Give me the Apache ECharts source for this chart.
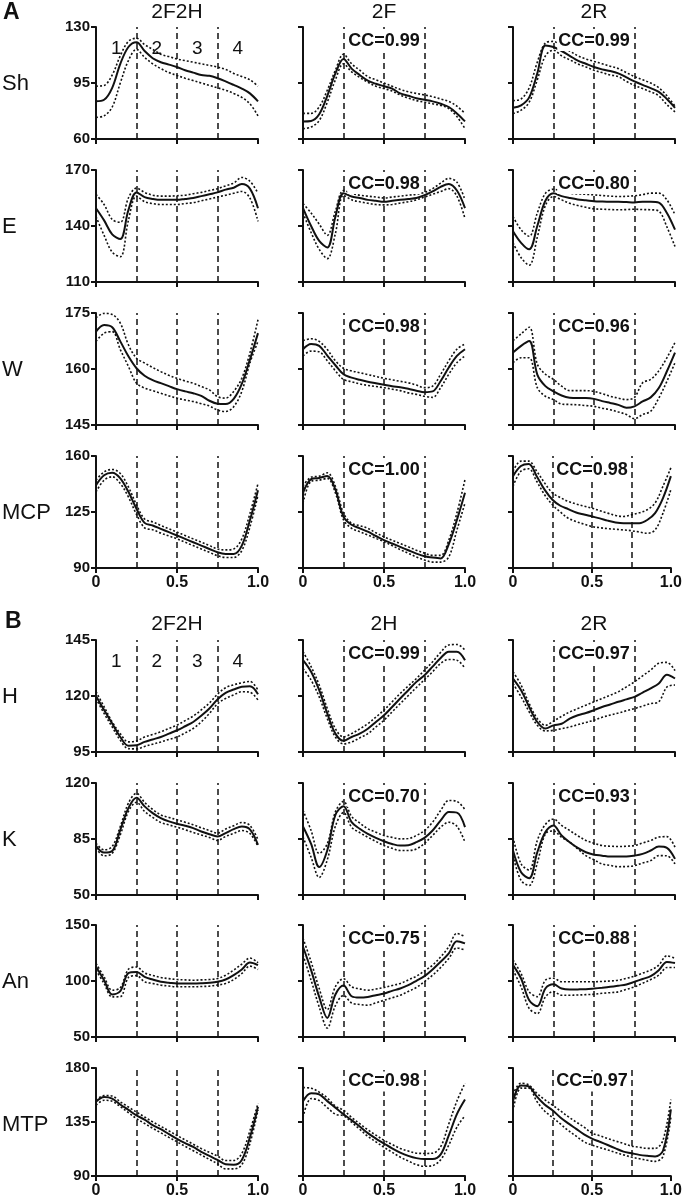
<!DOCTYPE html>
<html>
<head>
<meta charset="utf-8">
<script src="https://cdn.jsdelivr.net/npm/echarts@6/dist/echarts.min.js"></script>
<style>
html,body{margin:0;padding:0;background:#fff;}
#c{width:685px;height:1199px;}
</style>
</head>
<body>
<div id="c"></div>
<script>
// ---------- data ----------
const X = [0,0.05,0.1,0.15,0.2,0.25,0.3,0.35,0.4,0.45,0.5,0.55,0.6,0.65,0.7,0.75,0.8,0.85,0.9,0.95,1];
const ROWS = ['Sh','E','W','MCP','H','K','An','MTP'];
const COL_TITLES_A = ['2F2H','2F','2R'];
const COL_TITLES_B = ['2F2H','2H','2R'];
const YMIN = [60,110,145,90,95,50,50,90];
const YMAX = [130,170,175,160,145,120,150,180];
const X_TICKS = [0,0.5,1];
const PHASES = ['1','2','3','4'];
const PHASE_X = [0.125,0.375,0.625,0.875];
const CC = [
  [null,'0.99','0.99'],
  [null,'0.98','0.80'],
  [null,'0.98','0.96'],
  [null,'1.00','0.98'],
  [null,'0.99','0.97'],
  [null,'0.70','0.93'],
  [null,'0.75','0.88'],
  [null,'0.98','0.97']
];

// Sh
const sh1_m = [83.6,84.5,92,107,117.5,120.5,115,110.5,108,106.5,105,103,101.5,100,99.5,98,96,93.8,91.5,88.5,83.5];
const sh1_u = [93,93.5,100,112,121,123,119,116,113,111.5,110,109,108,107,106,105,103.5,101,99,97,93];
const sh1_l = [73.5,74.5,80,95,109,116,111,107,104,101.5,99.7,98,96.5,95,93.5,92,90.5,88.5,86,82,74.5];
const sh2_m = [71,71.3,75.5,87,101,110,104,100,96.5,94.5,93,91.5,88.5,87,85.5,84.5,83.5,82,80,76,71];
const sh2_u = [76,76,80,90.5,103,113,107,103,99,97,95,93,91,89.5,88.5,87.5,86.5,85,83.5,80.5,76];
const sh2_l = [66.5,67.5,71.5,83,97,107,102,98.5,95.5,93,91.5,90,87.5,85.5,84,83,82,81,79,74,66.5];
const sh3_m = [79.5,81,86,101,118.5,117.5,115,112,109,107,105,103.5,102.5,101,98.5,96,93.8,91.8,89.5,85,79.5];
const sh3_u = [84,85,92,108,120,121,118,115,112,110,108.5,107,105.5,104,101.5,99,97,95,92,87,80.5];
const sh3_l = [75.8,78,83,97,112,115.5,112,109.5,107,105,103,101.5,100,99,96,93.5,91.5,89.5,87,81.5,77];
// E
const e1_m = [149.5,143,135.5,133,148.5,158,155.5,154.5,154,154,154,154.5,155,156,157,158,159.5,160.5,162.5,160,149.5];
const e1_u = [157,151.5,143.5,142,155,160.3,158,156.5,156,156,156.2,156.5,157.3,158,159,160,161.5,163,166,164,157.5];
const e1_l = [145,135,126,123.5,143,156,153,152,151.5,151.5,151.5,152,152.5,153.5,154.5,155.5,156.5,157.5,158.5,155,142.5];
const e2_m = [149.6,140,132,128.5,145,157.6,155.8,155,154,153.5,153,153.5,154,154.5,155,156.5,158.5,161,162.5,159,149.6];
const e2_u = [152,147,141,135,148,159,157.5,156.5,156,155.5,155,155.5,156,156.5,157,158,160,163,165.5,163.5,154];
const e2_l = [147,136.5,127.5,122.5,136,156.5,154,153,152.2,151.5,151.3,151.5,152.3,153,154,155.5,157,158.5,160,156,144];
const e3_m = [137.2,131,127.5,140,153.5,157.5,156,155,154.2,153.8,153.3,153.1,153,153,152.8,152.6,153,153,152.5,147,138];
const e3_u = [145,138,134.5,147,157.5,159.7,158.8,157.6,157.2,157,156.7,156.3,156,155.8,155.9,156.2,156.8,157.6,157.6,154,146];
const e3_l = [131,123,119,134,151,155.8,154,152.2,151,150,149.2,149,148.8,148.7,148.8,149,148.8,148.7,148,139.5,129];
// W
const w1_m = [170,171.8,171.2,167.4,163.4,160.2,158.2,157,156.2,155.4,154.6,154,153.5,152.8,151.5,150.7,150.6,152,156,162.5,169.6];
const w1_u = [173.7,174.9,174.6,172.3,166.5,162.9,161.6,160.4,159.3,158.3,157.5,156.8,156.2,155.3,154.4,152.6,152.2,154,157.5,164.3,173.2];
const w1_l = [167.4,169.6,170,165.2,160.7,156.2,154.9,154.2,153.5,152.8,152.2,151.7,151.3,150.7,150.1,149,148.6,149.9,154,161.6,167.4];
const w2_m = [165.3,166.7,166.2,163.6,161,158.6,157.7,157.1,156.6,156.2,155.8,155.4,155.1,154.7,154.2,153.8,154,156.8,160.4,163.5,165.3];
const w2_u = [167.6,168.1,167.4,165.2,162.2,160.2,159.5,159,158.5,158,157.5,157.1,156.7,156.3,155.7,155,155.4,158.6,162.2,165.3,166.7];
const w2_l = [163.5,164.8,164.6,162.2,159.5,157.2,156.6,156,155.6,155.3,155,154.6,154.2,153.6,153.2,152.7,152.4,155,158.6,161.7,163.5];
const w3_m = [164.4,166.2,167.5,158.5,155.4,154,152.9,152.3,152.2,152.2,152,151.4,150.9,150.4,149.6,150,151.3,152.4,154.9,159.4,164.4];
const w3_u = [167.6,169.4,171.2,161.3,158.6,157.2,155.4,154.2,154.2,154.2,154,153.4,152.7,152.2,151.8,152.4,156.3,157.2,159.5,163,167.1];
const w3_l = [161.7,163,163,155,152.7,151.8,150.6,150.5,150.4,150.2,150,149.5,149.1,148.5,147.8,146.7,147.8,148.7,152.2,156.7,161.7];
// MCP
const mcp1_m = [141.8,148,149.5,146,137.6,127,118.2,116.6,114.5,112.4,110.3,108.2,106.1,104,101.9,99.8,98.8,98.8,104,119.8,138.6];
const mcp1_u = [144.9,150.1,151.6,149.1,140.7,129.5,120.6,118.8,116.6,114.5,112.4,110.3,108.2,106.1,104,101.9,101.3,101.9,108.2,124,142.8];
const mcp1_l = [137.6,144.9,147,142.8,134.4,123.5,115.1,113.9,111.8,110,108.2,106.1,104,101.9,99.8,97.7,96.6,96.6,100.9,115.6,135.5];
const mcp2_m = [137,145.5,146.3,147.5,139,122,117,114.8,112.7,110,107.4,105.3,103.2,101.1,99,97.4,96.5,96,105,120,137];
const mcp2_u = [141.1,146.8,147.4,149.5,141.1,124.3,118,116.5,114.8,112,109.5,107.4,105.3,103.2,101.1,99.3,97.9,97.9,107.4,124.3,145.3];
const mcp2_l = [130.6,144.2,144.9,146,136.9,120.1,114.8,112.7,110.6,108.5,106.4,104,101.5,99.2,96.9,95,93.7,93.7,96.9,113.7,130.6];
const mcp3_m = [147.4,153.7,155,147.4,139,132.7,128.9,126.8,124.7,123.4,122.2,121,119.6,118.5,118,118,118,120,124.3,133.7,147.4];
const mcp3_u = [150.5,156.8,156.8,150.5,143.2,136.9,134,131.6,130,128.7,127.4,125.8,124.3,122.8,122.2,123.2,124.5,126.4,130.6,141.1,152.6];
const mcp3_l = [141.1,150.5,152,144.2,135.8,129.5,125,121.1,119,117.4,115.9,115.2,114.6,114.2,113.8,113.3,112.5,111.7,113.8,124.3,139];
// H
const h1_m = [120,113.7,107.7,101.7,97.8,98,99.5,100.6,101.7,103.2,104.7,106.5,108.4,111.2,114.4,118.5,121.4,122.9,124.1,124.3,120.8];
const h1_u = [121.9,115.2,108.4,103.2,99.5,99.9,101.7,102.8,104,105.5,107,109,111,113.8,116.9,120.8,123.7,125,125.9,126.5,122.6];
const h1_l = [118.9,112.2,106.2,100.2,96.5,96.4,97.5,98.5,99.5,100.6,101.7,103.5,105.5,108.5,112.2,116.5,118.9,120.5,121.9,121.7,118.2];
const h2_m = [136,130.8,122.6,112.2,103.2,100,101.7,103.2,105.4,108.4,111.4,115.1,118.9,122.6,126.3,129.3,133.1,137,139.8,139.8,136];
const h2_u = [139.8,133.1,124.9,114.4,105.4,101.7,103.2,105.3,107.6,110.6,113.7,117.4,121.1,124.5,127.8,131.5,135.3,139.5,142.8,143,140.5];
const h2_l = [132.3,127.1,119.6,109.9,101.7,98.6,99.5,101.3,103.2,106.2,109.2,112.9,116.6,120.2,123.8,127.3,130.8,134.6,136.3,136,132.3];
const h3_m = [127.8,122.6,115.1,108.4,105.5,106.9,107.6,109.9,111.4,112.4,113.7,115.1,116.2,117.4,118.5,119.6,121.5,123.4,125.6,129.5,127.8];
const h3_u = [130.8,124.9,116.6,109.9,106.9,108.8,110.9,112.9,114.4,115.9,117.4,118.9,120.4,121.9,124.1,126.3,129,131.6,134.6,135,131.3];
const h3_l = [125.6,119.6,112.9,106.9,104.4,104.7,105.4,106.2,107.2,108.2,109.2,110.5,111.5,112.4,113.4,114.4,115.5,116.6,117.4,124,124.9];
// K
const k1_m = [80.7,76.5,77.5,90.7,104.3,110.8,105.4,101.2,98.1,96,94.5,93.3,91.8,89.7,88,86.6,88.7,91.2,92.8,91,81.3];
const k1_u = [82.4,78.2,80.3,92.8,107.4,113.5,107.9,103.5,100.1,98.5,97,95.5,93.9,92,90.3,88.7,91.2,93.3,95.3,93.5,84.5];
const k1_l = [79.3,74.5,76,87.6,102.2,108,102.2,98.5,95.3,93.8,92.4,90.8,89.1,87.5,86,84.1,86.6,88.5,90.3,88.5,80.3];
const k2_m = [92.8,81.9,67.5,78,100,105.5,95.5,91.4,88.2,85.7,83.6,81.9,80.9,81.1,83,85.7,90.3,96.6,101.8,101.5,92.4];
const k2_u = [102.9,90.3,76,82,102,108.5,99.1,95,91.4,89.2,87.2,86,85.1,85.3,87.2,90.3,95.5,102.9,109.1,108.5,103.3];
const k2_l = [86.2,73.6,61,72,93,101.5,92.4,89,86.1,83.5,80.9,79.2,77.8,77.8,78.8,82.3,87.2,92.4,95.5,93,83];
const k3_m = [77.8,64.2,60.5,76.7,89.3,93.5,87.2,83,79.4,76.7,75.2,74.6,74,74,74,74.6,75.7,77.8,80.3,79.5,72.6];
const k3_u = [86.2,69.4,65.5,84.1,94.1,97.5,93.5,90.3,87,84.1,82.3,80.9,80.5,80.3,80.5,80.9,82.5,84.1,86.2,86.5,79.9];
const k3_l = [74.6,59,56,70,88.2,90,86,83,78.8,74.6,72,69.4,68.5,67.7,67.8,68.3,70,71.5,74.6,74.5,69.4];
// An
const an1_m = [112.7,100.7,88,91,107,108,103.7,101.3,99.3,98.5,97.8,97.8,97.8,98,98.4,99.3,101.3,105.2,110.3,116.5,114.2];
const an1_u = [115.7,103.7,91.8,94,110.5,112.5,107.3,105,103.1,102.1,101.3,101,100.7,101,101.3,102.2,105.2,109.7,115.1,120.5,116.3];
const an1_l = [109.7,97.8,85.8,86,103.1,104.8,99.3,97.8,96.3,95.5,94.8,94.8,94.8,95.1,95.4,96.4,97.8,101.3,106.7,113.3,110.3];
const an2_m = [130.6,109.7,85.8,67,88,96,86.4,85.2,85.8,87.3,88.8,91.2,93.3,96.3,100.2,104.3,110.3,117.2,124.6,135.5,133.6];
const an2_u = [138.1,117.2,93.3,74.5,95,102,94.8,93,91.8,92.8,94.2,96,97.8,101,104.3,109,114.2,121.6,130.6,142.5,139.6];
const an2_l = [123.1,100.7,76.9,58,78,87,80.4,79,78.4,80.5,82.8,85,87.3,90.7,94.2,99.5,105.2,112.1,120.1,129.5,127.6];
const an3_m = [114.2,102.2,82.8,77.5,93.3,97,93.3,92.4,92.5,92.7,93.3,94,94.8,95.8,96.9,99.3,101.8,104.3,109.7,117,116];
const an3_u = [118.7,106.7,90.3,86,100.7,102.5,99.3,99.3,99.3,99.3,99.3,99.6,100,100.7,102.3,104.3,107,109.7,114.2,122.5,120.1];
const an3_l = [109.7,94.8,75.4,71,85.8,90.5,87.3,87.3,87.5,87.8,88.2,89,89.6,90.3,92.5,94.8,98,101.3,105.2,112,112.1];
// MTP
const mtp1_m = [151.8,155.8,154.5,149.6,145.1,140.5,137,132.4,129,124.9,120.9,117.4,114.2,110.2,106.7,103.4,99.8,99.4,103.4,122.2,147.8];
const mtp1_u = [153.1,157.1,156.6,151.8,147.5,143.2,139.2,135.1,131.4,127.6,123.8,120.1,116.5,112.8,109.7,106.7,102.9,102.9,108.8,127.6,150.5];
const mtp1_l = [149.1,153.1,152.3,147.8,142.8,137.8,133.8,129.8,126,122.2,118.5,114.7,111.1,107.5,103.8,100.2,95.9,95.9,99.4,116.9,145.1];
const mtp2_m = [152.4,159,158,152.4,147,141.5,136.6,131.2,125.7,121.2,117.1,113,109.5,106.8,104.9,104.1,104.1,108,123.8,141.5,153.7];
const mtp2_u = [163.7,163.2,159.9,155,148.3,144.8,138.8,133.6,128.5,124,119.8,116.3,113,110.8,109,108.8,109,114.4,133.4,152.4,167.3];
const mtp2_l = [138.8,154.5,152.9,147,141.5,140.2,134.8,129,123.1,118.5,113.9,109.8,105.8,102.5,99.5,98.1,98.7,103.6,115.8,130.7,140.2];
const mtp3_m = [152.4,165.4,164.6,156.4,149.6,144.8,138.8,133.9,129.3,124.7,121.2,118.5,115.8,113,110.3,109,107.6,106.8,106.3,111,145.6];
const mtp3_u = [157.8,167.3,165.9,159.1,153.7,149.1,144.3,139.4,135,130.7,125.8,123.5,121.2,119.1,117.1,114.9,114,113,113,119.8,153.7];
const mtp3_l = [144.2,163.2,163.2,152.4,144.2,138.8,133.4,128,123.2,118.5,115.8,113.7,111.7,109.6,107.6,105.8,104.4,103.1,102.2,106.3,138.8];

const PANELS = [
  [[sh1_m,sh1_u,sh1_l],[sh2_m,sh2_u,sh2_l],[sh3_m,sh3_u,sh3_l]],
  [[e1_m,e1_u,e1_l],[e2_m,e2_u,e2_l],[e3_m,e3_u,e3_l]],
  [[w1_m,w1_u,w1_l],[w2_m,w2_u,w2_l],[w3_m,w3_u,w3_l]],
  [[mcp1_m,mcp1_u,mcp1_l],[mcp2_m,mcp2_u,mcp2_l],[mcp3_m,mcp3_u,mcp3_l]],
  [[h1_m,h1_u,h1_l],[h2_m,h2_u,h2_l],[h3_m,h3_u,h3_l]],
  [[k1_m,k1_u,k1_l],[k2_m,k2_u,k2_l],[k3_m,k3_u,k3_l]],
  [[an1_m,an1_u,an1_l],[an2_m,an2_u,an2_l],[an3_m,an3_u,an3_l]],
  [[mtp1_m,mtp1_u,mtp1_l],[mtp2_m,mtp2_u,mtp2_l],[mtp3_m,mtp3_u,mtp3_l]]
];

// ---------- layout ----------
const LEFTS = [96, 303, 513];
const TOPS = [27, 170, 313, 456, 640, 783, 925, 1068];
const GW = 162, GH = 112;
const FONT = '"Liberation Sans", Arial, Helvetica, sans-serif';
const INK = '#111';

const grids = [], xAxes = [], yAxes = [], series = [];
ROWS.forEach((row, ri) => {
  const ymin = YMIN[ri], ymax = YMAX[ri];
  const yt = [ymin, (ymin + ymax) / 2, ymax];
  for (let ci = 0; ci < 3; ci++) {
    const gi = ri * 3 + ci;
    grids.push({left: LEFTS[ci], top: TOPS[ri], width: GW, height: GH});
    xAxes.push({
      gridIndex: gi, type: 'value', min: 0, max: 1, interval: 0.5,
      axisLine: {show: true, lineStyle: {color: INK, width: 2}},
      axisTick: {show: true, length: 5, lineStyle: {color: INK, width: 2}, customValues: X_TICKS},
      axisLabel: {show: ri === 3 || ri === 7, customValues: X_TICKS,
        formatter: v => v === 0 ? '0' : v.toFixed(1),
        fontSize: 16, fontWeight: 'bold', color: INK, fontFamily: FONT, margin: 7},
      splitLine: {show: false}
    });
    yAxes.push({
      gridIndex: gi, type: 'value', min: ymin, max: ymax,
      axisLine: {show: true, onZero: false, lineStyle: {color: INK, width: 2}},
      axisTick: {show: true, length: 5, lineStyle: {color: INK, width: 2}, customValues: yt},
      axisLabel: {show: ci === 0, customValues: yt, fontSize: 15, fontWeight: 'bold',
        color: INK, fontFamily: FONT, margin: 6},
      splitLine: {show: false}
    });
    const [m, u, l] = PANELS[ri][ci];
    const toPts = arr => X.map((x, i) => [x, arr[i]]);
    // dashed phase boundaries
    series.push({
      type: 'line', xAxisIndex: gi, yAxisIndex: gi, data: [], silent: true,
      markLine: {
        silent: true, symbol: ['none', 'none'], z: 1, animation: false,
        label: {show: false},
        lineStyle: {color: INK, width: 1.5, type: [6, 4]},
        data: [{xAxis: 0.25}, {xAxis: 0.5}, {xAxis: 0.75}]
      }
    });
    [u, l].forEach(arr => series.push({
      type: 'line', xAxisIndex: gi, yAxisIndex: gi, data: toPts(arr),
      symbol: 'none', smooth: 0.35, silent: true, z: 3,
      lineStyle: {color: INK, width: 1.6, type: [2, 2]}
    }));
    const meanSeries = {
      type: 'line', xAxisIndex: gi, yAxisIndex: gi, data: toPts(m),
      symbol: 'none', smooth: 0.35, silent: true, z: 4,
      lineStyle: {color: INK, width: 2}
    };
    const mpData = [];
    if (CC[ri][ci]) {
      mpData.push({name: 'CC=' + CC[ri][ci], coord: [0.5, ymax - (14 / GH) * (ymax - ymin)],
        label: {fontSize: 18, fontWeight: 'bold', backgroundColor: '#fff', padding: [1, 1]}});
    }
    if (ci === 0 && (ri === 0 || ri === 4)) {
      PHASES.forEach((p, k) => mpData.push({name: p, coord: [PHASE_X[k], ymax - (22 / GH) * (ymax - ymin)],
        label: {fontSize: 19, fontWeight: 'normal'}}));
    }
    if (mpData.length) {
      meanSeries.markPoint = {
        symbol: 'rect', symbolSize: 1, z: 10, silent: true, animation: false,
        itemStyle: {color: 'rgba(0,0,0,0)'},
        label: {show: true, position: 'inside', formatter: p => p.name, color: INK, fontFamily: FONT},
        data: mpData
      };
    }
    series.push(meanSeries);
  }
});

// ---------- texts ----------
const graphic = [];
const txt = (text, x, y, size, weight, align) => graphic.push({
  type: 'text', x: x, y: y, silent: true,
  style: {text: text, fill: INK, font: (weight || 'normal') + ' ' + size + 'px ' + FONT,
    textAlign: align || 'left', textVerticalAlign: 'middle'}
});
txt('A', 3, 13, 23, 'bold');
txt('B', 5, 622, 23, 'bold');
const colCenters = LEFTS.map(l => l + GW / 2);
COL_TITLES_A.forEach((t, i) => txt(t, colCenters[i], 12, 21, 'normal', 'center'));
COL_TITLES_B.forEach((t, i) => txt(t, colCenters[i], 624, 21, 'normal', 'center'));
ROWS.forEach((r, ri) => txt(r, 2, TOPS[ri] + GH / 2 + 1, 22, 'normal', 'left'));

const chart = echarts.init(document.getElementById('c'), null, {renderer: 'canvas'});
chart.setOption({
  animation: false,
  backgroundColor: '#fff',
  grid: grids, xAxis: xAxes, yAxis: yAxes, series: series, graphic: graphic
});
</script>
</body>
</html>
